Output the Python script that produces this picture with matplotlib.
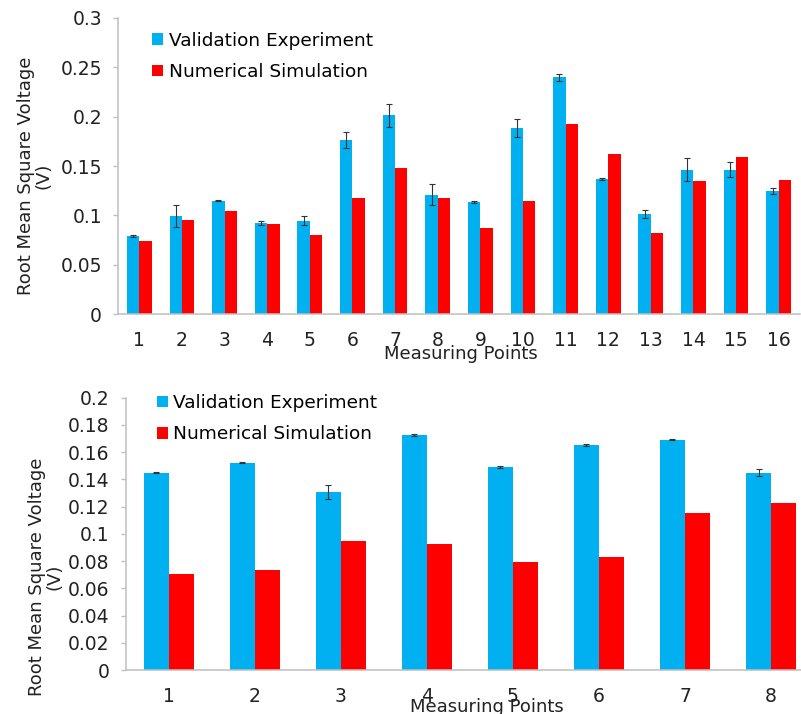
import numpy as np
from matplotlib import pyplot as plt

# top chart: 16 measuring points
top_points = [str(i) for i in range(1, 17)]
top_experiment = [0.0795, 0.0991, 0.1150, 0.0923, 0.0944, 0.1762, 0.2012, 0.1211,
                  0.1136, 0.1884, 0.2398, 0.1370, 0.1011, 0.1464, 0.1464, 0.1245]
top_error = [0.0010, 0.0110, 0.0008, 0.0020, 0.0045, 0.0078, 0.0117, 0.0110,
             0.0008, 0.0093, 0.0034, 0.0010, 0.0039, 0.0120, 0.0080, 0.0030]
top_simulation = [0.0737, 0.0950, 0.1045, 0.0917, 0.0805, 0.1174, 0.1481, 0.1174,
                  0.0869, 0.1150, 0.1921, 0.1617, 0.0825, 0.1353, 0.1590, 0.1363]

# bottom chart: 8 measuring points
bottom_points = [str(i) for i in range(1, 9)]
bottom_experiment = [0.1449, 0.1523, 0.1307, 0.1723, 0.1488, 0.1652, 0.1692, 0.1449]
bottom_error = [0.0005, 0.0005, 0.0051, 0.0007, 0.0007, 0.0010, 0.0002, 0.0027]
bottom_simulation = [0.0703, 0.0734, 0.0947, 0.0928, 0.0791, 0.0832, 0.1155, 0.1226]

BLUE = '#00B0F0'
RED = '#FF0000'
GREY = '#BFBFBF'
W = 0.29


def draw(ax, cats, exp, err, sim, ymax, step):
    x = np.arange(len(cats))
    ax.bar(x - W / 2, exp, W, color=BLUE, label='Validation Experiment',
           yerr=err, capsize=2.5,
           error_kw=dict(elinewidth=0.8, capthick=0.8, ecolor='#333333'))
    ax.bar(x + W / 2, sim, W, color=RED, label='Numerical Simulation')
    ax.set_xlim(-0.5, len(cats) - 0.5)
    ax.set_ylim(0, ymax)
    ax.set_xticks(x)
    ax.set_xticklabels(cats)
    ax.set_yticks(np.arange(0, ymax + step / 2, step))
    ax.yaxis.set_major_formatter(plt.FuncFormatter(lambda v, p: ('%g' % round(v, 3))))
    for s in ['top', 'right']:
        ax.spines[s].set_visible(False)
    for s in ['left', 'bottom']:
        ax.spines[s].set_color(GREY)
        ax.spines[s].set_linewidth(1.1)
    ax.tick_params(axis='y', length=3.5, width=1, color=GREY, pad=8,
                   labelsize=13.5, labelcolor='#222222')
    ax.tick_params(axis='x', length=0, pad=12, labelsize=13.5, labelcolor='#222222')
    ax.set_xlabel('Measuring Points', fontsize=13, color='#222222')
    ax.set_ylabel('Root Mean Square Voltage\n(V)', fontsize=13, color='#222222',
                  linespacing=1.0)
    ax.xaxis.label.set_verticalalignment('center')
    ax.yaxis.label.set_verticalalignment('center')


fig = plt.figure(figsize=(8.01, 7.14), dpi=100)

ax1 = fig.add_axes([0.1473, 0.5602, 0.8515, 0.4146])
draw(ax1, top_points, top_experiment, top_error, top_simulation, 0.3, 0.05)
ax1.xaxis.set_label_coords(0.503, -0.135)
ax1.yaxis.set_label_coords(-0.1224, 0.466)
ax1.legend(loc='upper left', bbox_to_anchor=(0.045, 0.966), frameon=False,
           fontsize=13.3, handlelength=0.6, handleheight=0.6, handletextpad=0.3,
           labelspacing=0.72, borderpad=0.2, borderaxespad=0)

ax2 = fig.add_axes([0.1567, 0.0616, 0.8596, 0.3814])
draw(ax2, bottom_points, bottom_experiment, bottom_error, bottom_simulation, 0.2, 0.02)
ax2.xaxis.set_label_coords(0.525, -0.136)
ax2.yaxis.set_label_coords(-0.116, 0.3415)
ax2.legend(loc='upper left', bbox_to_anchor=(0.04, 1.027), frameon=False,
           fontsize=13.3, handlelength=0.6, handleheight=0.6, handletextpad=0.3,
           labelspacing=0.72, borderpad=0.2, borderaxespad=0)

fig.savefig('out.png', dpi=100)
